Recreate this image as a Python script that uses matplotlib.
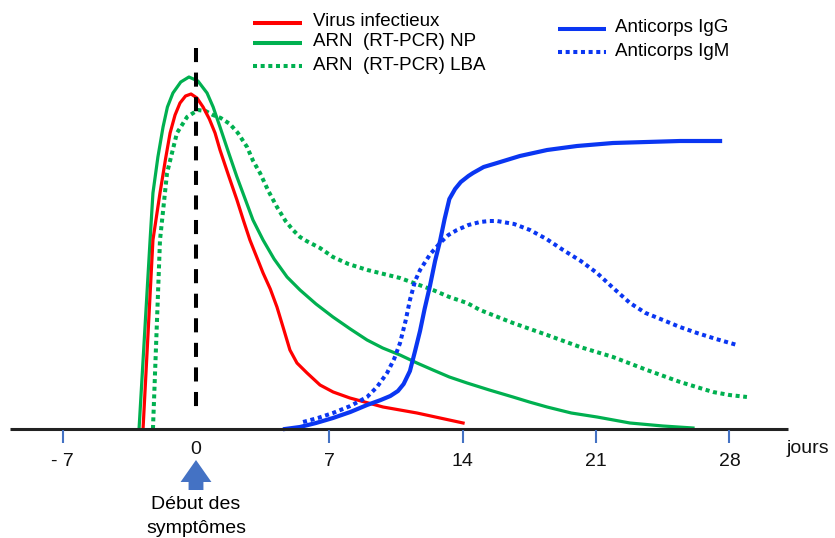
import numpy as np
import matplotlib.pyplot as plt
from matplotlib.patches import Polygon

plt.rcParams['font.family'] = ['Liberation Sans', 'DejaVu Sans']

# jours depuis le debut des symptomes, niveau relatif (unite arbitraire)
virus_j = [-2.78, -2.26, -1.89, -1.6, -1.36, -1.1, -0.84, -0.55, -0.26, 0.05,
           0.37, 0.7, 1.0, 1.26, 1.7, 2.15, 2.5, 2.83, 3.52, 3.9, 4.25, 4.6,
           4.93, 5.3, 5.83, 6.51, 7.2, 8.08, 9.82, 11.6, 14.02]
virus_v = [0, 189, 236, 270, 296, 314, 326, 333, 335, 331,
           322, 310, 296, 279, 254, 229, 208, 189, 156, 140, 122, 100,
           79, 66, 56, 44, 37, 31, 22, 16, 6]

np_j = [-2.99, -2.41, -2.26, -2.0, -1.73, -1.5, -1.21, -0.8, -0.37, 0.1, 0.58,
        0.9, 1.26, 1.7, 2.15, 2.99, 3.52, 4.1, 4.78, 5.46, 6.3, 7.19, 8.1,
        8.98, 9.8, 10.71, 11.6, 12.44, 13.3, 14.23, 15.4, 16.64, 17.5, 18.43,
        19.7, 21.05, 22.78, 24.51, 26.09]
np_v = [0, 189, 236, 272, 302, 322, 336, 347, 352, 348, 336,
        322, 302, 277, 252, 209, 189, 170, 152, 139, 125, 112, 100,
        89, 81, 74, 66, 59, 52, 46, 39, 32, 27, 22,
        16, 12, 6, 3, 1]

lba_j = [-2.26, -1.89, -1.52, -1.0, -0.47, 0.10, 0.5, 0.89, 1.3, 1.78, 2.2,
         2.68, 3.0, 3.36, 3.8, 4.25, 4.7, 5.09, 5.46, 5.8, 6.51, 7.19, 8.0,
         9.0, 10.71, 12.44, 13.3, 14.23, 14.91, 16.64, 18.43, 20.16, 21.89,
         23.67, 25.41, 27.14, 28.0, 28.92]
lba_v = [0, 189, 256, 296, 312, 319, 318, 314, 311, 305, 296,
         282, 268, 256, 238, 222, 208, 199, 192, 188, 181, 172, 165,
         159, 151, 139, 132, 126, 119, 106, 94, 82, 72,
         59, 47, 37, 34, 32]

igg_j = [4.67, 5.46, 6.3, 7.19, 8.1, 8.98, 9.7, 10.2, 10.6, 10.9, 11.23,
         11.5, 11.76, 12.0, 12.28, 12.55, 12.81, 13.05, 13.3, 13.6, 13.9,
         14.3, 14.54, 15.1, 15.8, 17.0, 18.43, 20.0, 21.89, 25.41, 27.51]
igg_v = [0, 2, 6, 11, 17, 24, 29, 33, 38, 45, 58,
         78, 98, 120, 143, 168, 188, 210, 230, 240, 247,
         253, 256, 262, 266, 273, 279, 283, 286, 288, 288]

igm_j = [5.62, 6.4, 7.19, 8.1, 8.98, 9.5, 10.03, 10.4, 10.71, 11.0, 11.23,
         11.5, 11.76, 12.3, 12.81, 13.25, 13.70, 14.3, 14.91, 15.4, 15.80,
         16.7, 17.53, 18.4, 19.27, 20.2, 21.05, 21.9, 22.78, 23.6, 24.51,
         25.4, 26.30, 27.3, 28.40]
igm_v = [7, 11, 16, 23, 32, 42, 56, 70, 86, 108, 129,
         148, 159, 175, 186, 194, 199, 204, 207, 208, 208,
         205, 199, 190, 179, 168, 156, 141, 126, 116, 109,
         102, 96, 90, 84]

ticks = [-7, 7, 14, 21, 28]
tick_labels = ['- 7', '7', '14', '21', '28']

red = '#FF0000'
green = '#00B050'
blue = '#0A36F2'
tickblue = '#4472C4'

fig = plt.figure(figsize=(8.35, 5.38), dpi=100)
ax = fig.add_axes([0, 0, 1, 1])
ax.set_xlim(-196 / 19.05, 639 / 19.05)
ax.set_ylim(-109, 429)
ax.axis('off')

dot = (0, (1, 0.9))
ax.plot(np_j, np_v, color=green, lw=2.3, solid_joinstyle='round')
ax.plot(lba_j, lba_v, color=green, lw=2.9, ls=dot)
ax.plot(virus_j, virus_v, color=red, lw=2.3, solid_joinstyle='round')
ax.plot(igm_j, igm_v, color=blue, lw=2.9, ls=dot)
ax.plot(igg_j, igg_v, color=blue, lw=3.0, solid_joinstyle='round')

# axe du temps
ax.plot([-9.76, 31.08], [0, 0], color='#222222', lw=2.2, solid_capstyle='butt')
ax.vlines(ticks, -14, -1, color=tickblue, lw=1.5)
for t, lab in zip(ticks, tick_labels):
    ax.text(t, -37, lab, ha='center', va='baseline', fontsize=14, color='#111111')
ax.text(0, -25, '0', ha='center', va='baseline', fontsize=14, color='#111111')
ax.text(31.0, -24, 'jours', ha='left', va='baseline', fontsize=14, color='#111111')

# debut des symptomes
ax.plot([0, 0], [381, 14], color='black', lw=2.9, ls=(0, (3.5, 2.6)),
        dash_capstyle='butt')
hw, sw = 0.81, 0.39
arrow = Polygon([(0, -31), (hw, -53), (sw, -53), (sw, -61), (-sw, -61),
                 (-sw, -53), (-hw, -53)], closed=True, color=tickblue, lw=0)
ax.add_patch(arrow)
ax.text(0, -80, 'Début des', ha='center', va='baseline', fontsize=14)
ax.text(0, -104, 'symptômes', ha='center', va='baseline', fontsize=14)

# legende
leg_left = [('Virus infectieux', red, '-', 406),
            ('ARN  (RT-PCR) NP', green, '-', 386),
            ('ARN  (RT-PCR) LBA', green, dot, 363)]
for lab, c, ls, y in leg_left:
    ax.plot([2.99, 5.56], [y, y], color=c, lw=2.9, ls=ls, solid_capstyle='butt')
    ax.text(6.14, y + 1, lab, ha='left', va='center', fontsize=13.5)
leg_right = [('Anticorps IgG', '-', 400), ('Anticorps IgM', dot, 377)]
for lab, ls, y in leg_right:
    ax.plot([19.0, 21.52], [y, y], color=blue, lw=2.9, ls=ls, solid_capstyle='butt')
    ax.text(22.0, y + 1, lab, ha='left', va='center', fontsize=13.5)

fig.savefig('out.png', dpi=100)
